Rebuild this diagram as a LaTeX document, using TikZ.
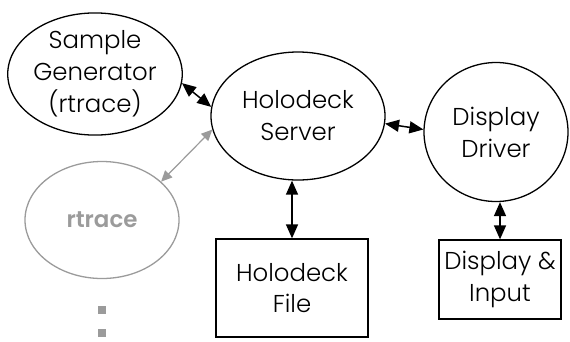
\documentclass[tikz,border=0pt]{standalone}
\usepackage{fontspec}
\setmainfont{Poppins}[UprightFont=* Light,BoldFont=* SemiBold]
\usetikzlibrary{shapes.geometric,arrows.meta}
\definecolor{lgray}{RGB}{155,155,155}
\tikzset{
  ell/.style={ellipse,draw,line width=1.3bp,inner sep=0pt,align=center,font=\fontsize{24.5}{32}\selectfont},
  box/.style={rectangle,draw,line width=1.3bp,inner sep=0pt,align=center,font=\fontsize{24.5}{32}\selectfont},
  link/.style={line width=1.5bp,{Triangle[length=14bp,width=12bp]}-{Triangle[length=14bp,width=12bp]}},
  glink/.style={line width=1.2bp,draw=lgray,{Triangle[length=11bp,width=10bp,fill=lgray]}-{Triangle[length=11bp,width=10bp,fill=lgray]}},
  dot/.style={rectangle,fill=lgray,minimum size=8bp,inner sep=0pt}
}
\begin{document}
\begin{tikzpicture}[x=1bp,y=-1bp]
\useasboundingbox (0,0) rectangle (570,341);
\node[ell,minimum width=172bp,minimum height=122bp] (sg) at (95,74) {Sample\\Generator\\(rtrace)};
\node[ell,minimum width=174bp,minimum height=128bp] (srv) at (298,116) {Holodeck\\Server};
\node[ell,minimum width=144bp,minimum height=139bp] (drv) at (496,132) {Display\\Driver};
\node[ell,draw=lgray,text=lgray,minimum width=154bp,minimum height=117bp,font=\fontsize{23}{26}\selectfont\bfseries] (rt) at (102,220) {rtrace};
\node[box,minimum width=152bp,minimum height=98bp] (file) at (292,288) {Holodeck\\File};
\node[box,minimum width=122bp,minimum height=79bp] (di) at (500,279.5) {Display \&\\Input};
\node[dot] (d1) at (102,310) {};
\node[dot] (d2) at (102,333) {};
\draw[link] (sg.-6) -- (srv.174);
\draw[glink] (srv.189) -- (rt.33);
\draw[link] (srv.-5) -- (drv.178);
\draw[link] (srv.south -| file.north) -- (file.north);
\draw[link] (drv.south -| di.north) -- (di.north);
\end{tikzpicture}
\end{document}
